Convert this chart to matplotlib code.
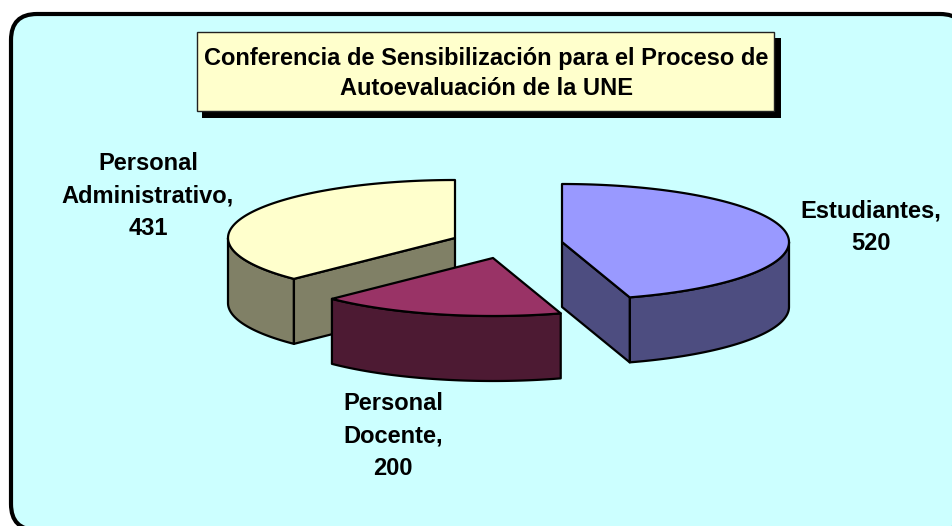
import numpy as np
import matplotlib
matplotlib.use('Agg')
import matplotlib.pyplot as plt
from matplotlib.patches import FancyBboxPatch, Polygon, Rectangle

plt.rcParams['font.family'] = ['Liberation Sans', 'DejaVu Sans']

title = 'Conferencia de Sensibilización para el Proceso de\nAutoevaluación de la UNE'
categories = ['Estudiantes', 'Personal Docente', 'Personal Administrativo']
values = [520, 200, 431]
label_texts = ['Estudiantes,\n520', 'Personal\nDocente,\n200', 'Personal\nAdministrativo,\n431']
top_colors = ['#9999FF', '#993366', '#FFFFCC']
side_colors = ['#4D4D80', '#4D1A33', '#808066']

# layout, in pixels of the 952x526 picture
centers = [(562, 242), (493, 258), (455, 238)]
label_pos = [(871, 227), (393, 436), (148, 196)]
RX, RY, DEPTH = 227, 58, 65


def rim(c, theta):
    return np.column_stack([c[0] + RX * np.sin(theta), c[1] - RY * np.cos(theta)])


fig = plt.figure(figsize=(9.52, 5.26), dpi=100)
ax = fig.add_axes([0, 0, 1, 1])
ax.set_xlim(0, 952)
ax.set_ylim(526, 0)
ax.axis('off')

ax.add_patch(FancyBboxPatch((11, 14), 955, 516, boxstyle='round,pad=0,rounding_size=26',
                            fc='#CCFFFF', ec='black', lw=3, zorder=1))

# title box with its hard shadow
ax.add_patch(Rectangle((202, 38), 579, 80, fc='black', ec='none', zorder=2))
ax.add_patch(Rectangle((197, 32), 577, 79, fc='#FFFFCC', ec='#222222', lw=1, zorder=3))
ax.text(486, 73.5, title, ha='center', va='center', fontsize=17, fontweight='bold',
        linespacing=1.36, zorder=4)

# slices turn clockwise from 12 o'clock, drawn back to front
edges = np.radians(np.cumsum([0] + values) / np.sum(values) * 360)
draw_order = [2, 1, 0]
for n, i in enumerate(draw_order):
    c = centers[i]
    t0, t1 = edges[i], edges[i + 1]
    z = 5 + n
    style = dict(ec='black', lw=1.6, joinstyle='round', zorder=z)

    # outer wall, only the part on the front half of the ellipse
    a, b = max(t0, np.pi / 2), min(t1, 3 * np.pi / 2)
    if a < b:
        arc = rim(c, np.linspace(a, b, 80))
        ax.add_patch(Polygon(np.vstack([arc, arc[::-1] + [0, DEPTH]]), fc=side_colors[i], **style))

    # cut faces that look toward the viewer
    for t, show in [(t0, np.sin(t0) < -1e-6), (t1, np.sin(t1) > 1e-6)]:
        if show:
            p = rim(c, np.array([t]))[0]
            ax.add_patch(Polygon([c, p, p + [0, DEPTH], np.array(c) + [0, DEPTH]],
                                 fc=side_colors[i], **style))

    top = rim(c, np.linspace(t0, t1, 160))
    ax.add_patch(Polygon(np.vstack([[c], top]), fc=top_colors[i], **style))

for txt, (x, y) in zip(label_texts, label_pos):
    ax.text(x, y, txt, ha='center', va='center', fontsize=17, fontweight='bold',
            linespacing=1.52, zorder=20)

fig.savefig('out.png', dpi=100, facecolor='white')
